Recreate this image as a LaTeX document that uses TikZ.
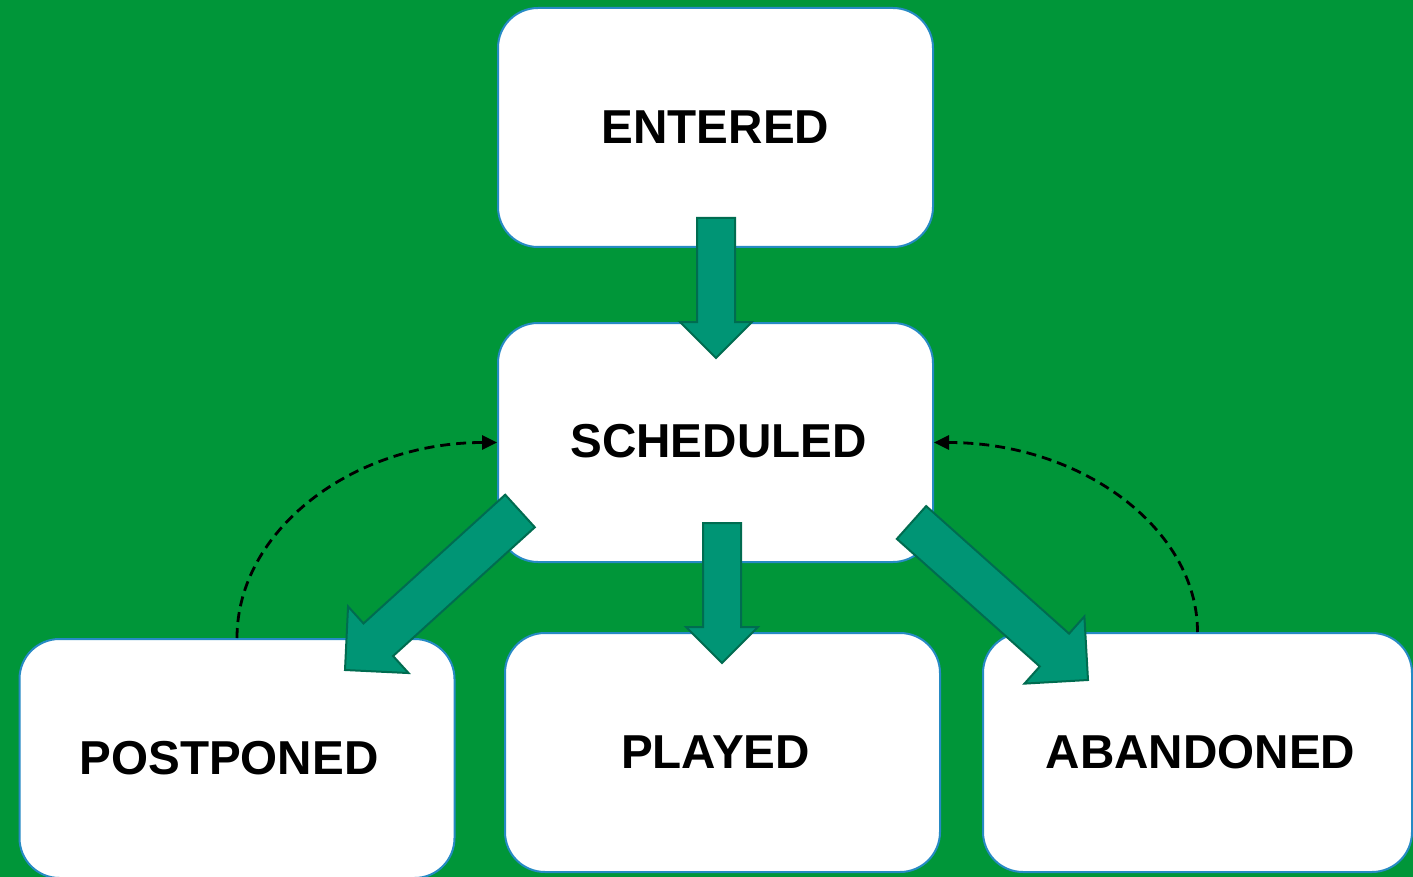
\documentclass[tikz,border=0pt]{standalone}
\usepackage{fontspec}
\setmainfont{Liberation Sans}
\usetikzlibrary{calc,arrows.meta}

\definecolor{bggreen}{RGB}{0,150,57}
\definecolor{arrowfill}{RGB}{0,149,117}
\definecolor{arrowedge}{RGB}{0,108,80}
\definecolor{boxedge}{RGB}{38,138,196}

% block arrow: tail, tip, half shaft width, half head width
\newcommand\blockarrow[4]{%
  \coordinate (ba-base) at ($(#2)!#4!(#1)$);
  \filldraw[bigarrow] ($(#1)!#3!90:(#2)$) -- ($(ba-base)!#3!-90:(#1)$)
    -- ($(ba-base)!#4!-90:(#1)$) -- (#2) -- ($(ba-base)!#4!90:(#1)$)
    -- ($(ba-base)!#3!90:(#1)$) -- ($(#1)!#3!-90:(#2)$) -- cycle;
}

\tikzset{
  state/.style={draw=boxedge, line width=1pt, fill=white, rounded corners=20pt,
    minimum width=217.5pt, minimum height=119.5pt,
    font=\fontsize{23.8}{28}\selectfont\bfseries},
  bigarrow/.style={fill=arrowfill, draw=arrowedge, line width=1pt, line join=miter},
  back/.style={black, line width=1.4pt, dash pattern=on 5pt off 3pt,
    -{Triangle[length=7.5pt,width=7pt]}}
}

\begin{document}
\begin{tikzpicture}[x=0.5pt, y=-0.5pt]
	% Background
	\fill[bggreen] (0,0) rectangle (1413,877);
	\useasboundingbox (0,0) rectangle (1413,877);

	% States
	\node[state] (entered) at (715.5,127.5) {ENTERED};
	\node[state] (scheduled) at (715.5,442.5) {\raisebox{2pt}{\kern3pt SCHEDULED}};
	\node[state] (postponed) at (237,758.5) {POSTPONED\kern8pt};
	\node[state] (played) at (722.5,752.5) {PLAYED\kern7pt};
	\node[state, minimum width=214.5pt] (abandoned) at (1197.5,752.5) {\kern3pt ABANDONED};

	% Block arrows
	\coordinate (e-tail) at (716,218);   \coordinate (e-tip) at (716,358);
	\coordinate (p-tail) at (722,523);   \coordinate (p-tip) at (722,663);
	\coordinate (l-tail) at (520,511);   \coordinate (l-tip) at (345,670);
	\coordinate (r-tail) at (911.5,522.5); \coordinate (r-tip) at (1088,680);
	\blockarrow{e-tail}{e-tip}{9.5pt}{18pt}
	\blockarrow{p-tail}{p-tip}{9.5pt}{18pt}
	\blockarrow{l-tail}{l-tip}{11pt}{22.5pt}
	\blockarrow{r-tail}{r-tip}{11pt}{22.5pt}

	% Back to scheduled
	\draw[back] (postponed.north) .. controls +(0,-108) and +(-144,0) .. (scheduled.west);
	\draw[back] (abandoned.north) .. controls +(0,-103) and +(148,0) .. (scheduled.east);
\end{tikzpicture}
\end{document}
